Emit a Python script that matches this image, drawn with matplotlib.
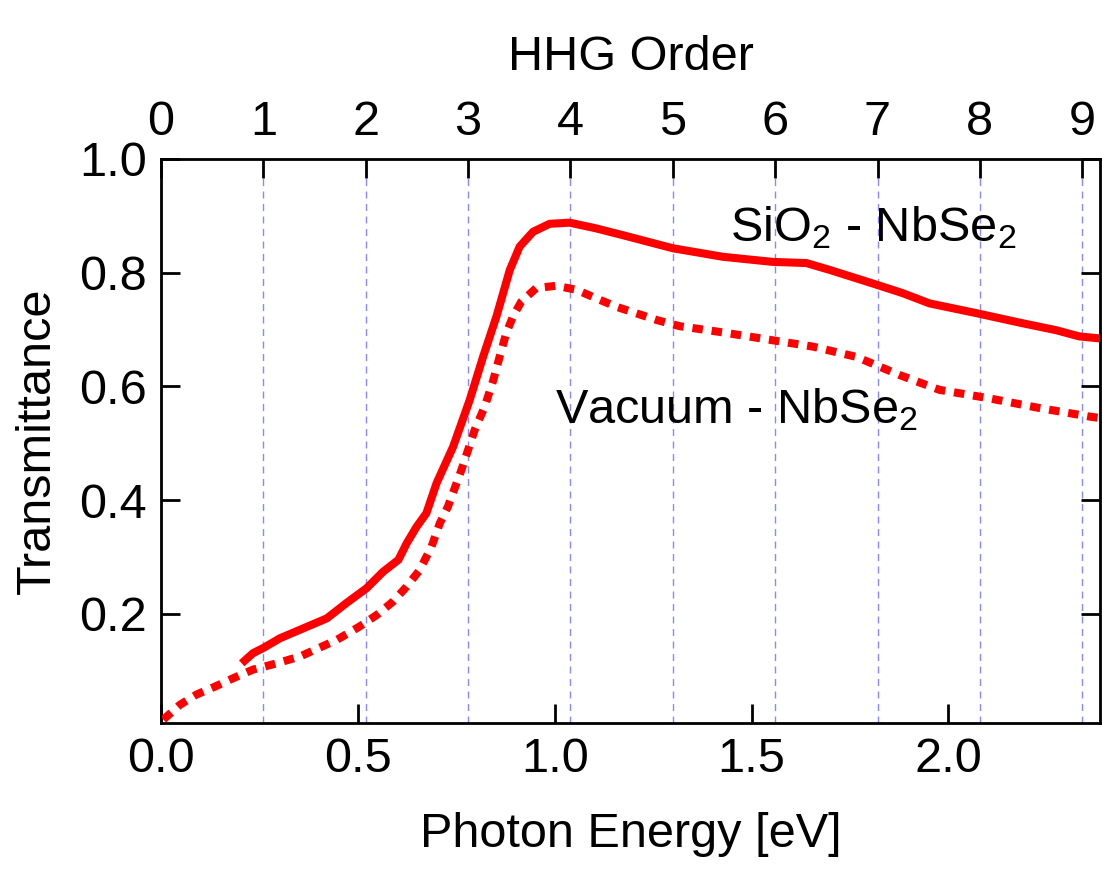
import numpy as np
import matplotlib
matplotlib.use("Agg")
import matplotlib.pyplot as plt

plt.rcParams['font.family'] = ['Liberation Sans', 'DejaVu Sans']
plt.rcParams['mathtext.fontset'] = 'custom'
plt.rcParams['mathtext.rm'] = 'Liberation Sans'
plt.rcParams['mathtext.it'] = 'Liberation Sans:italic'

# SiO2 - NbSe2 (solid)
E_sio2 = [0.205, 0.234, 0.260, 0.302, 0.353, 0.421, 0.471, 0.522, 0.564, 0.603,
          0.624, 0.649, 0.674, 0.700, 0.742, 0.784, 0.818, 0.852, 0.886, 0.911,
          0.945, 0.987, 1.038, 1.105, 1.173, 1.300, 1.427, 1.554, 1.639, 1.698,
          1.808, 1.884, 1.952, 2.070, 2.189, 2.273, 2.332, 2.390]
T_sio2 = [0.113, 0.131, 0.140, 0.157, 0.172, 0.192, 0.219, 0.245, 0.274, 0.295,
          0.324, 0.353, 0.377, 0.430, 0.494, 0.576, 0.652, 0.723, 0.805, 0.846,
          0.872, 0.886, 0.888, 0.878, 0.866, 0.843, 0.828, 0.819, 0.817, 0.805,
          0.781, 0.764, 0.746, 0.729, 0.711, 0.699, 0.688, 0.684]

# Vacuum - NbSe2 (dotted)
E_vac = [0.006, 0.048, 0.090, 0.137, 0.184, 0.234, 0.294, 0.353, 0.446, 0.505,
         0.548, 0.590, 0.624, 0.657, 0.687, 0.708, 0.729, 0.763, 0.797, 0.822,
         0.844, 0.860, 0.877, 0.894, 0.915, 0.953, 1.004, 1.055, 1.105, 1.157,
         1.258, 1.317, 1.427, 1.546, 1.656, 1.766, 1.876, 1.977, 2.104, 2.231,
         2.358, 2.390]
T_vac = [0.014, 0.040, 0.058, 0.072, 0.087, 0.102, 0.113, 0.125, 0.154, 0.178,
         0.198, 0.222, 0.248, 0.277, 0.318, 0.359, 0.389, 0.453, 0.524, 0.564,
         0.611, 0.652, 0.694, 0.723, 0.749, 0.773, 0.777, 0.770, 0.755, 0.740,
         0.717, 0.706, 0.695, 0.682, 0.670, 0.652, 0.620, 0.594, 0.579, 0.562,
         0.547, 0.544]

orders = list(range(10))
order_step = 0.26  # eV per harmonic order
x_ticks = [0.0, 0.5, 1.0, 1.5, 2.0]
y_ticks = [0.2, 0.4, 0.6, 0.8, 1.0]

fs = 35
fig = plt.figure(figsize=(11.02, 8.82), dpi=100)
ax = fig.add_axes([161/1102, 159/882, 939/1102, 564/882])

for n in orders[1:]:
    ax.axvline(n * order_step, color='#8888ff', lw=1.0, ls=(0, (5, 4)), zorder=1)

ax.plot(E_sio2, T_sio2, color='#ff0000', lw=5.8, solid_capstyle='butt', zorder=3)
ax.plot(E_vac, T_vac, color='#ff0000', lw=5.8, ls=(0, (1.3, 1.1)),
        dash_capstyle='butt', zorder=3)

ax.set_xlim(0, 2.385)
ax.set_ylim(0.008, 1.0)
ax.set_xticks(x_ticks)
ax.set_xticklabels([f"{v:.1f}" for v in x_ticks])
ax.set_yticks(y_ticks)
ax.set_yticklabels([f"{v:.1f}" for v in y_ticks])
ax.tick_params(direction='in', length=14, width=2, labelsize=fs, pad=10,
               top=False, right=True)
for s in ax.spines.values():
    s.set_linewidth(2)

ax.set_xlabel("Photon Energy [eV]", fontsize=fs, labelpad=22)
ax.set_ylabel("Transmittance", fontsize=fs, labelpad=14)

top = ax.twiny()
top.set_xlim(ax.get_xlim())
top.set_xticks([n * order_step for n in orders])
top.set_xticklabels([str(n) for n in orders])
top.tick_params(direction='in', length=14, width=2, labelsize=fs, pad=10)
top.set_xlabel("HHG Order", fontsize=fs, labelpad=22)

ax.text(1.444, 0.879, "SiO$_2$ - NbSe$_2$", fontsize=fs, va='center', ha='left')
ax.text(1.0, 0.559, "Vacuum - NbSe$_2$", fontsize=fs, va='center', ha='left')

fig.savefig("out.png", dpi=100)
